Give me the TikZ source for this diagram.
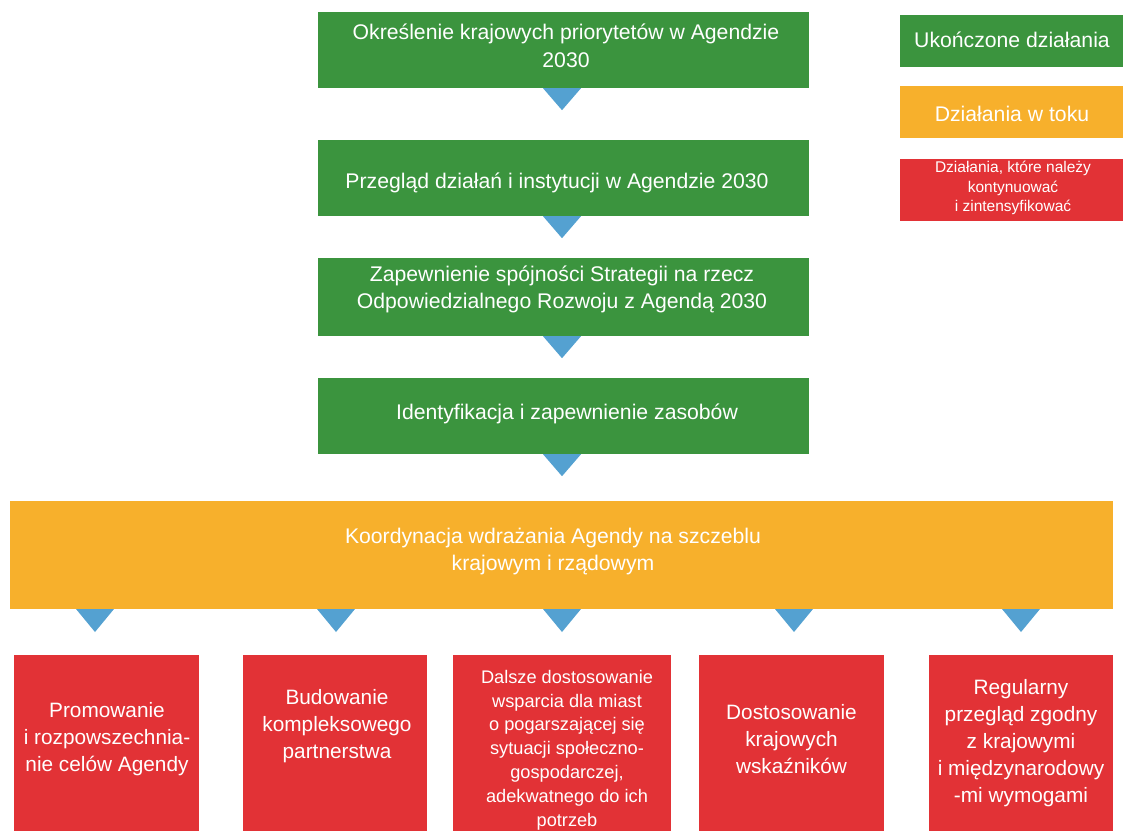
\documentclass[tikz,border=0pt]{standalone}
\usepackage{fontspec}
\setmainfont{Liberation Sans}
\usetikzlibrary{calc}
\definecolor{cgreen}{RGB}{59,148,62}
\definecolor{corange}{RGB}{247,176,44}
\definecolor{cred}{RGB}{226,50,54}
\definecolor{cblue}{RGB}{84,161,209}
\begin{document}
\begin{tikzpicture}[x=1pt,y=-1pt,
  box/.style={draw=none, inner sep=0pt, align=center, text=white},
  gbox/.style={box, fill=cgreen, minimum width=491pt, minimum height=76pt, font=\fontsize{21}{28}\selectfont},
  obox/.style={box, fill=corange, minimum width=1103pt, minimum height=108pt},
  rbox/.style={box, fill=cred, minimum height=176pt},
  big/.style={text=white, align=center, inner sep=0pt, font=\fontsize{21.2}{27}\selectfont},
  mid/.style={text=white, align=center, inner sep=0pt, font=\fontsize{20.8}{27}\selectfont},
  small/.style={text=white, align=center, inner sep=0pt, font=\fontsize{18.2}{23.8}\selectfont},
  legbox/.style={box, minimum width=223pt, minimum height=52pt, font=\fontsize{21}{28}\selectfont},
  tri/.style={fill=cblue, draw=none}]
\useasboundingbox (0,0) rectangle (1123,831);

% green steps
\node[gbox] (g1) at (563.5,50) {};
\node[big, font=\fontsize{21.2}{28}\selectfont] (g1t) at (566,46) {Określenie krajowych priorytetów w Agendzie\\2030};
\node[gbox] (g2) at (563.5,178) {};
\node[big] (g2t) at (557,183) {Przegląd działań i instytucji w Agendzie 2030};
\node[gbox, minimum height=78pt] (g3) at (563.5,297) {};
\node[big] (g3t) at (562,289) {Zapewnienie spójności Strategii na rzecz\\Odpowiedzialnego Rozwoju z Agendą 2030};
\node[gbox] (g4) at (563.5,416) {};
\node[big] (g4t) at (567,414) {Identyfikacja i zapewnienie zasobów};

% orange
\node[obox] (o) at (561.5,555) {};
\node[big] (ot) at (553,552) {Koordynacja wdrażania Agendy na szczeblu\\krajowym i rządowym};

% legend
\node[legbox, fill=cgreen] (lg) at (1011.5,41) {};
\node[big] (lgt) at (1012,40) {Ukończone działania};
\node[legbox, fill=corange] (lo) at (1011.5,112) {};
\node[big] (lot) at (1012,114) {Działania w toku};
\node[legbox, fill=cred, minimum height=62pt] (lr) at (1011.5,190) {};
\node[text=white, align=center, inner sep=0pt, font=\fontsize{15.5}{19.5}\selectfont] (lrt) at (1013,188) {Działania, które należy\\kontynuować\\i zintensyfikować};

% red boxes
\node[rbox, minimum width=185pt] (r1) at (106.5,743) {};
\node[rbox, minimum width=184pt] (r2) at (335,743) {};
\node[rbox, minimum width=218pt] (r3) at (562,743) {};
\node[rbox, minimum width=185pt] (r4) at (791.5,743) {};
\node[rbox, minimum width=184pt] (r5) at (1021,743) {};

\node[mid] (r1t) at (107,739) {Promowanie\\i rozpowszechnia-\\nie celów Agendy};
\node[mid] (r2t) at (337,726) {Budowanie\\kompleksowego\\partnerstwa};
\node[small] (r3t) at (567,750) {Dalsze dostosowanie\\wsparcia dla miast\\o pogarszającej się\\sytuacji społeczno-\\gospodarczej,\\adekwatnego do ich\\potrzeb};
\node[mid] (r4t) at (791.5,739) {Dostosowanie\\krajowych\\wskaźników};
\node[mid] (r5t) at (1021,743) {Regularny\\przegląd zgodny\\z krajowymi\\i międzynarodowy\\-mi wymogami};

% triangles under green boxes
\foreach \n in {g1,g2,g3,g4}
  \fill[tri] ($(\n.south)+(-20.5,0)$) -- ($(\n.south)+(17.5,0)$) -- ($(\n.south)+(-1.5,22)$) -- cycle;

% triangles under orange box
\coordinate (a1) at (95,609);
\coordinate (a2) at (336,609);
\coordinate (a3) at (562,609);
\coordinate (a4) at (794,609);
\coordinate (a5) at (1021,609);
\foreach \n in {a1,a2,a3,a4,a5}
  \fill[tri] ($(\n)+(-19,0)$) -- ($(\n)+(19,0)$) -- ($(\n)+(0,23)$) -- cycle;
\end{tikzpicture}
\end{document}
